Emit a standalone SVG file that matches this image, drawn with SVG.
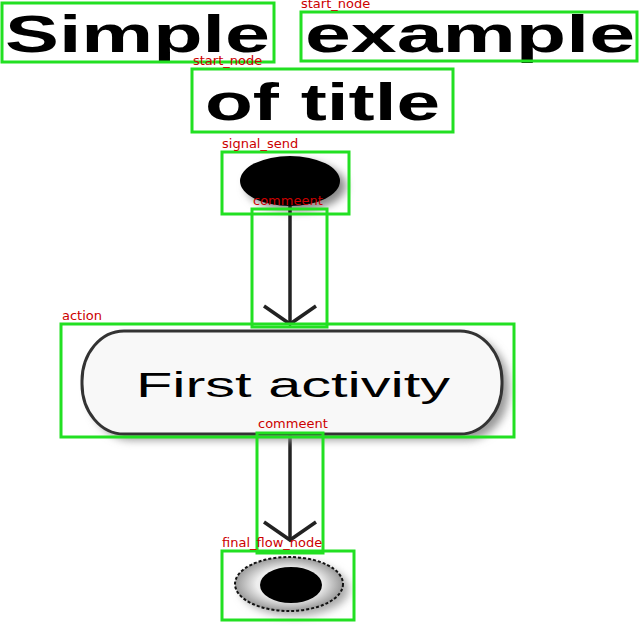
<svg xmlns="http://www.w3.org/2000/svg" width="640" height="640" viewBox="0 0 640 640">
<defs>
<style>
.title{font-family:"Liberation Sans",Arial,sans-serif;font-weight:bold;font-size:52px;fill:#000}
.act{font-family:"Liberation Sans",Arial,sans-serif;font-size:35px;fill:#000}
.box{fill:none;stroke:#22e022;stroke-width:3}
.lbl{font-family:"DejaVu Sans",sans-serif;font-size:13px;fill:#cc0000}
.edge{stroke:#222;stroke-width:3.5;fill:none}
</style>
<filter id="sh" x="-20%" y="-30%" width="150%" height="170%">
<feGaussianBlur stdDeviation="4"/>
</filter>
<radialGradient id="ring" cx="50%" cy="50%" r="50%">
<stop offset="0.6" stop-color="#eee"/>
<stop offset="1" stop-color="#999"/>
</radialGradient>
</defs>
<rect width="640" height="640" fill="#fff"/>
<g id="title">
<text class="title" x="5" y="52" textLength="265" lengthAdjust="spacingAndGlyphs">Simple</text>
<text class="title" x="305" y="52" textLength="330" lengthAdjust="spacingAndGlyphs">example</text>
<text class="title" x="205" y="120" textLength="235" lengthAdjust="spacingAndGlyphs">of title</text>
</g>
<g id="start">
<ellipse cx="296" cy="186" rx="50" ry="25" fill="#888" filter="url(#sh)"/>
<ellipse cx="290" cy="181" rx="50" ry="25" fill="#000"/>
</g>
<g id="connectors">
<path class="edge" d="M290 206 V323"/>
<path class="edge" d="M264 306 L290 324 L316 306"/>
<path class="edge" d="M290 435 V540"/>
<path class="edge" d="M264 522 L290 540 L316 522"/>
</g>
<g id="activity">
<rect x="89" y="337" width="420" height="103" rx="42" ry="50" fill="#999" filter="url(#sh)"/>
<rect x="82" y="331" width="420" height="103" rx="42" ry="50" fill="#f8f8f8" stroke="#333" stroke-width="3"/>
<text class="act" x="136" y="397" textLength="314" lengthAdjust="spacingAndGlyphs">First activity</text>
</g>
<g id="end">
<ellipse cx="295" cy="589" rx="54" ry="27" fill="#aaa" filter="url(#sh)"/>
<ellipse cx="289" cy="584" rx="54" ry="27" fill="url(#ring)" stroke="#111" stroke-width="2" stroke-dasharray="3 2"/>
<ellipse cx="291" cy="585" rx="31" ry="18" fill="#000"/>
</g>
<g id="annotations">
<rect class="box" x="2" y="3" width="272" height="59"/>
<rect class="box" x="301" y="12" width="336" height="49"/>
<text class="lbl" x="301" y="8">start_node</text>
<rect class="box" x="192" y="69" width="261" height="63"/>
<text class="lbl" x="193" y="65">start_node</text>
<rect class="box" x="222" y="152" width="127" height="62"/>
<text class="lbl" x="222" y="148">signal_send</text>
<rect class="box" x="252" y="209" width="75" height="118"/>
<text class="lbl" x="253" y="205">commeent</text>
<rect class="box" x="61" y="324" width="453" height="113"/>
<text class="lbl" x="62" y="320">action</text>
<rect class="box" x="257" y="433" width="66" height="120"/>
<text class="lbl" x="258" y="428">commeent</text>
<rect class="box" x="222" y="551" width="132" height="69"/>
<text class="lbl" x="222" y="547">final_flow_node</text>
</g>
</svg>
